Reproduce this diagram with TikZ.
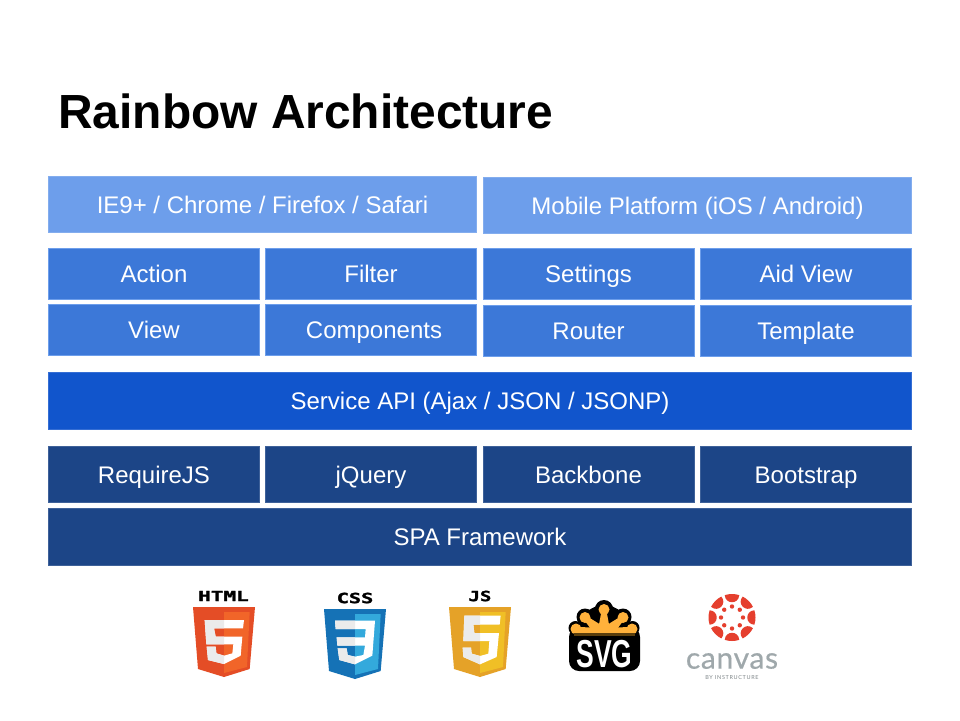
\documentclass[tikz,border=0pt]{standalone}
\usepackage{fontspec}
\usetikzlibrary{calc}
\setmainfont{Liberation Sans}
\newfontfamily\logofont[BoldFeatures={FakeBold=1.5}]{DejaVu Sans Mono}
\newfontfamily\canvasfont[FakeBold=0.5,LetterSpace=2.3]{Lato}
\newfontfamily\bysmallfont[LetterSpace=12]{Lato}
\definecolor{cA}{HTML}{6D9EEB}
\definecolor{cB}{HTML}{3C78D8}
\definecolor{cC}{HTML}{1155CC}
\definecolor{cD}{HTML}{1C4587}
\definecolor{HTML5a}{HTML}{E44D26}
\definecolor{HTML5b}{HTML}{F16529}
\definecolor{HTML5c}{HTML}{EBEBEB}
\definecolor{CSSa}{HTML}{1572B6}
\definecolor{CSSb}{HTML}{33A9DC}
\definecolor{JSa}{HTML}{E5A228}
\definecolor{JSb}{HTML}{F0BF26}
\definecolor{SVGo}{HTML}{FFB13B}
\definecolor{SVGd}{HTML}{5A3E0C}
\definecolor{canvasred}{HTML}{E53F2E}
\definecolor{canvasgrey}{HTML}{9FA8AB}
\tikzset{
  box/.style={inner sep=0pt,outer sep=0pt,text=white,align=center,
    font=\fontsize{24}{28}\selectfont,text height=20pt,text depth=3pt,line width=.8pt},
  boxA/.style={box,fill=cA,draw=cA!85!white},
  boxB/.style={box,fill=cB,draw=cA},
  boxC/.style={box,fill=cC,draw=cC!85!white},
  boxD/.style={box,fill=cD,draw=cD!85!white},
  wide/.style={minimum width=428.2pt,minimum height=56.4pt},
  cell/.style={minimum width=211.2pt,minimum height=51.2pt},
  tall/.style={minimum width=211.2pt,minimum height=56.4pt},
  full/.style={minimum width=863.2pt,minimum height=57.4pt},
  logotext/.style={inner sep=0pt,text=black,font=\logofont\bfseries\fontsize{14}{14}\selectfont}
}
\newcommand{\shieldlogo}[6]{%
  \begin{scope}[shift={(#1,#2)},scale=1/3]
    \fill[#3] (-93,0) -- (93,0) -- (77,186) -- (0,210) -- (-78,186) -- cycle;
    \fill[#4] (0,15) -- (77,15) -- (69,180) -- (0,198) -- cycle;
    \fill[white] #5;
    \begin{scope}
      \clip (-100,0) rectangle (0,220);
      \fill[#6] #5;
    \end{scope}
  \end{scope}}
\begin{document}
\begin{tikzpicture}[x=1pt,y=-1pt]
\useasboundingbox[fill=white] (0,0) rectangle (960,720);
\node[anchor=base west,inner sep=0pt,font=\bfseries\fontsize{47.9}{52}\selectfont] (title) at (58,128) {Rainbow Architecture};
\node[boxA,wide] (browser) at (262.5,204.5) {IE9+ / Chrome / Firefox / Safari};
\node[boxA,wide] (mobile) at (697.5,205.5) {Mobile Platform (iOS / Android)};
\node[boxB,cell] (action) at (154,274) {Action};
\node[boxB,cell] (filter) at (371,274) {Filter};
\node[boxB,cell] (settings) at (588.5,274) {Settings};
\node[boxB,cell] (aid) at (806,274) {Aid View};
\node[boxB,cell] (view) at (154,329.5) {View};
\node[boxB,cell] (components) at (371,329.5) {\hspace*{6pt}Components};
\node[boxB,cell] (router) at (588.5,330.5) {Router};
\node[boxB,cell] (template) at (806,330.5) {Template};
\node[boxC,full] (service) at (480,401) {Service API (Ajax / JSON / JSONP)};
\node[boxD,tall] (require) at (154,474.5) {RequireJS};
\node[boxD,tall] (jquery) at (371,474.5) {jQuery};
\node[boxD,tall] (backbone) at (588.5,474.5) {Backbone};
\node[boxD,tall] (bootstrap) at (806,474.5) {Bootstrap};
\node[boxD,full] (spa) at (480,537) {SPA Framework};
% HTML5
\node[logotext,xscale=1.5] (htmltext) at (223.5,596) {HTML};
\shieldlogo{224}{607}{HTML5a}{HTML5b}{(-58,39) -- (60,39) -- (57,64) -- (-30,64) -- (-25,89) -- (55,89) -- (50,146) -- (0,171) -- (-48,159) -- (-52,119) -- (-25,119) -- (-23,139) -- (0,146) -- (25,139) -- (28,112) -- (-53,112) -- cycle}{HTML5c}
% CSS3
\node[logotext,xscale=1.45] (csstext) at (355,598) {CSS};
\shieldlogo{355}{609}{CSSa}{CSSb}{(-60,35) -- (60,35) -- (52,140) -- (0,166) -- (-47,153) -- (-52,118) -- (-25,118) -- (-22,138) -- (0,143) -- (25,138) -- (30,110) -- (-53,110) -- (-55,85) -- (30,85) -- (32,60) -- (-58,60) -- cycle}{HTML5c}
% JS
\node[logotext,xscale=1.35] (jstext) at (480,596) {JS};
\shieldlogo{480}{607}{JSa}{JSb}{(-47,26) -- (62,26) -- (59,53) -- (-20,53) -- (-17,78) -- (57,78) -- (50,150) -- (0,172) -- (-50,150) -- (-52,122) -- (-27,122) -- (-25,140) -- (0,147) -- (25,140) -- (28,102) -- (-50,102) -- cycle}{HTML5c}
% SVG
\fill[black,rounded corners=10pt] (569,627) rectangle (640,671);
\foreach \cx/\cy/\r in {604/609/9,585/617/8.5,623/617/8.5,575.5/628/7,632.5/628/7}{\fill[black] (\cx,\cy) circle (\r);}
\fill[black] (575,627) -- (585,612) -- (604,602) -- (623,612) -- (633,627) -- cycle;
\begin{scope}
  \clip (565,595) rectangle (645,633);
  \fill[SVGo] (604,635) circle (28 and 6);
  \foreach \cx/\cy in {604/609.5,585/617.5,623/617.5,576/629,632/629}{
    \fill[SVGo] (\cx,\cy) circle (5.5);
    \coordinate (hd) at (\cx,\cy);
    \coordinate (org) at (604,635);
    \fill[SVGo] ($(hd)!2.2pt!90:(org)$) -- ($(org)!7pt!-90:(hd)$) -- ($(org)!7pt!90:(hd)$) -- ($(hd)!2.2pt!-90:(org)$) -- cycle;
  }
\end{scope}
\fill[SVGd] (574,633) rectangle (635,636);
\node[inner sep=0pt,text=white,font=\bfseries\fontsize{39}{39}\selectfont,xscale=.68] (svgtext) at (604.5,654) {SVG};
% Canvas
\begin{scope}[shift={(732,617.5)}]
  \foreach \a in {0,45,...,315}{
    \fill[canvasred] (\a-18:23.5) arc[start angle=\a-18,end angle=\a+18,radius=23.5]
      .. controls (\a+27:14.5) and (\a-27:14.5) .. cycle;
    \fill[canvasred] (\a:11) circle (2.2);
  }
\end{scope}
\node[inner sep=0pt,text=canvasgrey,font=\canvasfont\fontsize{30}{30}\selectfont] (canvastext) at (732,661) {canvas};
\node[inner sep=0pt,text=canvasgrey!80!black,font=\bysmallfont\fontsize{5.5}{6}\selectfont] (bytext) at (732,678) {BY INSTRUCTURE};
\end{tikzpicture}
\end{document}
